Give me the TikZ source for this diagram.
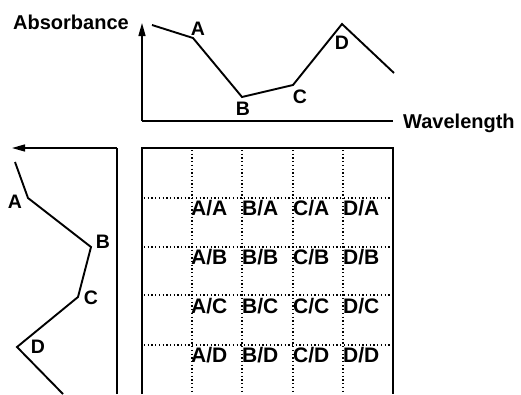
\documentclass[tikz,border=0pt]{standalone}
\usepackage{fontspec}
\setmainfont{Liberation Sans}
\usetikzlibrary{arrows.meta}
\begin{document}
\begin{tikzpicture}[x=1pt,y=-1pt,
  axis/.style={line width=1.4pt},
  curve/.style={line width=1.9pt, line join=miter},
  grid/.style={line width=1.3pt, dash pattern=on 1.3pt off 2.4pt},
  big/.style={font=\bfseries\fontsize{20}{22}\selectfont, inner sep=0pt},
  pt/.style={font=\bfseries\fontsize{19.5}{22}\selectfont, inner sep=0pt},
  cell/.style={font=\bfseries\fontsize{21}{23}\selectfont, inner sep=0pt, anchor=west},
  tip/.style={-{Triangle[length=13pt,width=7pt]}}]
\useasboundingbox (0,0) rectangle (521,394);
% top plot
\coordinate (yo) at (142,121);
\coordinate (yt) at (142,23);
\coordinate (xe) at (393,121);
\draw[axis,tip] (yo) -- (yt);
\draw[axis] (yo) -- (xe);
\node[big, anchor=east] (abs) at (129,22) {Absorbance};
\node[big, anchor=west] (wl) at (403,123) {Wavelength};
\coordinate (s0) at (152,25);
\coordinate (sa) at (193,38);
\coordinate (sb) at (242,97);
\coordinate (sc) at (293,85);
\coordinate (sd) at (342,24);
\coordinate (se) at (394,73);
\draw[curve] (s0) -- (sa) -- (sb) -- (sc) -- (sd) -- (se);
\node[pt] (la) at (198,29) {A};
\node[pt] (lb) at (243,109) {B};
\node[pt] (lc) at (300,97) {C};
\node[pt] (ld) at (342,43) {D};
% left plot
\coordinate (lo) at (117,394);
\coordinate (lc1) at (117,148);
\coordinate (lt) at (12,148);
\draw[axis] (lo) -- (lc1);
\draw[axis,tip] (lc1) -- (lt);
\coordinate (t0) at (15,162);
\coordinate (ta) at (28,198);
\coordinate (tb) at (91,247);
\coordinate (tc) at (78,297);
\coordinate (td) at (17,347);
\coordinate (te) at (63,394);
\draw[curve] (t0) -- (ta) -- (tb) -- (tc) -- (td) -- (te);
\node[pt] (ma) at (15,202) {A};
\node[pt] (mb) at (103,242) {B};
\node[pt] (mc) at (91,298) {C};
\node[pt] (md) at (38,347) {D};
% grid
\coordinate (g1) at (142,394);
\coordinate (g2) at (142,148);
\coordinate (g3) at (393,148);
\coordinate (g4) at (393,394);
\draw[axis] (g1) -- (g2) -- (g3) -- (g4);
\foreach \x in {192,242,293,343} \draw[grid] (\x,150) -- (\x,394);
\foreach \y in {198,247,295,345} \draw[grid] (144,\y) -- (391,\y);
\foreach \r/\y in {A/208,B/257,C/306,D/355} {
  \foreach \c/\x in {A/191,B/242,C/293,D/343} {
    \node[cell] (c\c\r) at (\x,\y) {\c/\r};
  }
}
\end{tikzpicture}
\end{document}
